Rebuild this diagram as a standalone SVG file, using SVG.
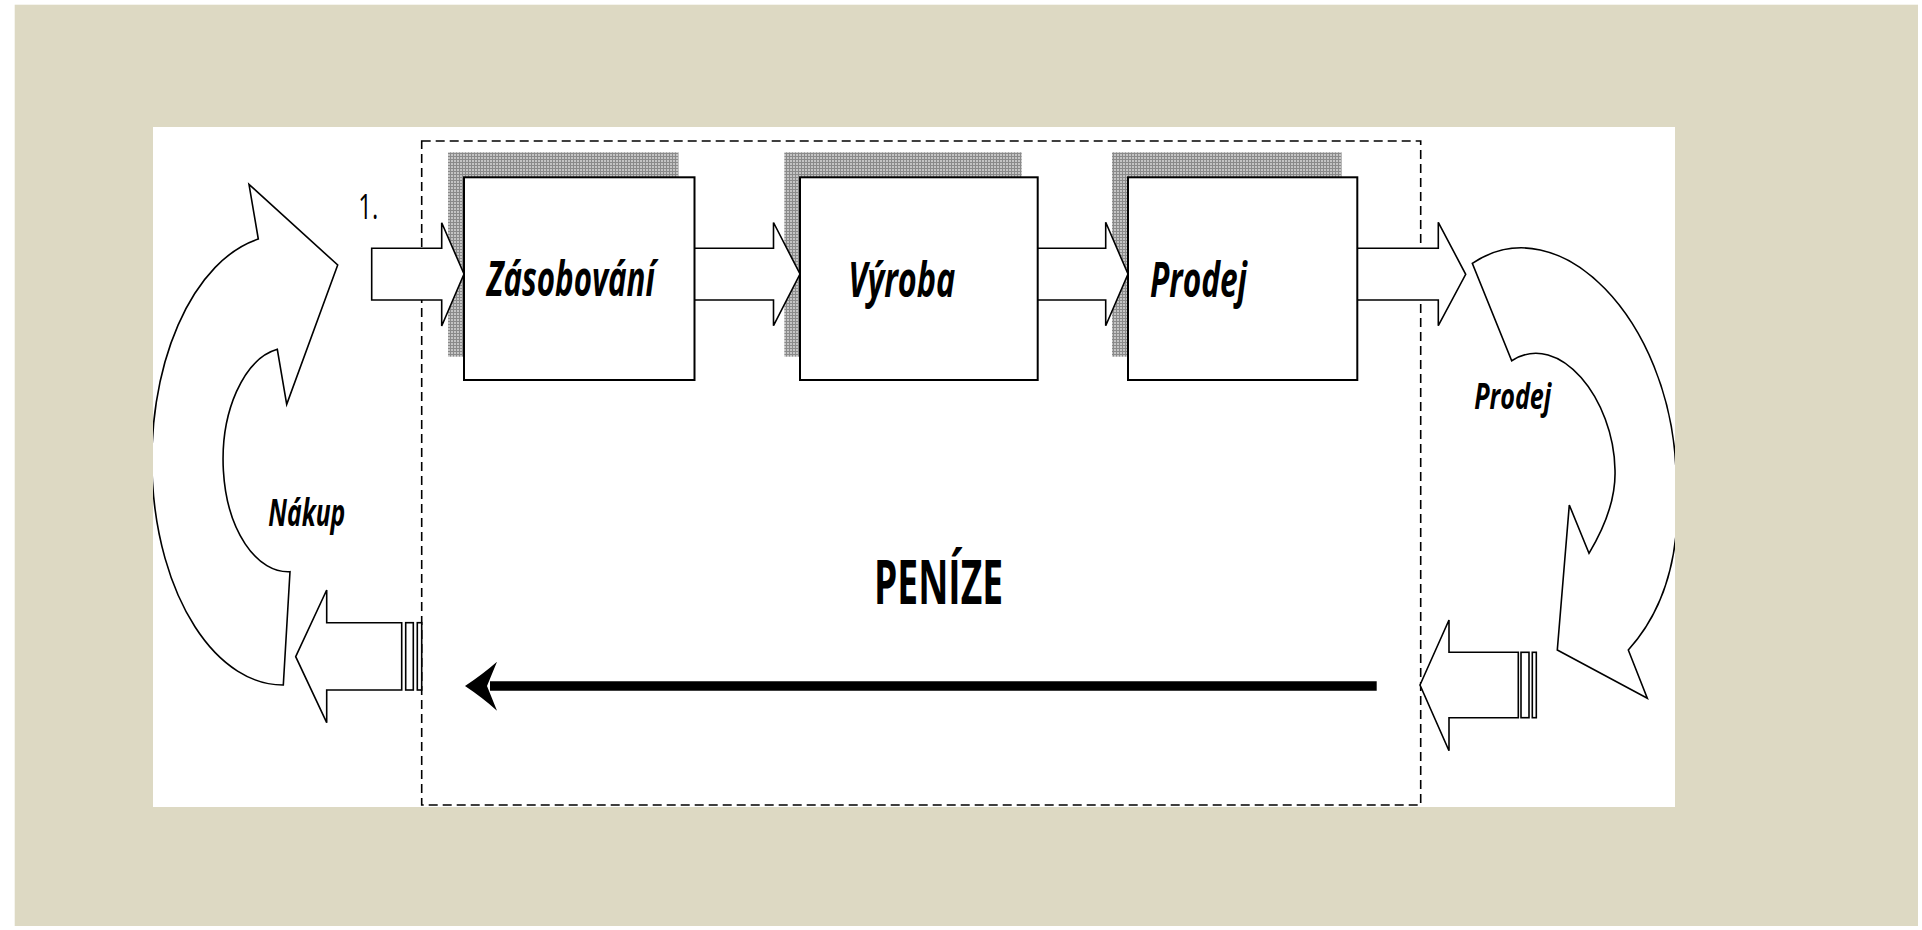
<svg xmlns="http://www.w3.org/2000/svg" width="1922" height="930" viewBox="0 0 1922 930">
<style>
.box{fill:#fff;stroke:#000;stroke-width:2}
.shadow{fill:url(#grid)}
.blk{fill:#fff;stroke:#000;stroke-width:1.6;stroke-linejoin:miter}
.lbl{font-family:"Open Sans","Liberation Sans",sans-serif;font-weight:bold;font-style:italic;fill:#000}
.dash{fill:none;stroke:#000;stroke-width:1.6;stroke-dasharray:9 5}
</style>
<defs>
<pattern id="grid" width="3" height="3" patternUnits="userSpaceOnUse">
<rect width="3" height="3" fill="#c4c4c4"/>
<rect width="3" height="1" fill="#8a8a8a"/>
<rect width="1" height="3" fill="#8a8a8a"/>
</pattern>
<clipPath id="clipWhite"><rect x="153" y="127" width="1522" height="680"/></clipPath>
</defs>
<rect x="0" y="0" width="1922" height="930" fill="#fff"/>
<rect x="14.7" y="4.7" width="1903.3" height="921.3" fill="#DDD9C3"/>
<rect x="153" y="127" width="1522" height="680" fill="#fff"/>
<g clip-path="url(#clipWhite)">
<rect id="frame" class="dash" x="421.7" y="141" width="999" height="664"/>

<g id="shadows">
<rect class="shadow" x="448" y="152.3" width="230.5" height="204.4"/>
<rect class="shadow" x="784.3" y="152.3" width="237.4" height="204.4"/>
<rect class="shadow" x="1112" y="152.3" width="229.6" height="204.4"/>
</g>

<g id="connectors">
<path id="arrow1" class="blk" d="M371.7 248.3 H441.7 V222.7 L464 274 L441.7 326 V300 H371.7 Z"/>
<path id="arrow2" class="blk" d="M694.5 248.3 H773.5 V222.5 L800 274 L773.5 325.7 V300 H694.5"/>
<path id="arrow3" class="blk" d="M1037.7 248.3 H1105.7 V222.3 L1128 274 L1105.7 325.7 V300 H1037.7"/>
<path id="arrow4" class="blk" d="M1357.3 248.3 H1438.3 V222.3 L1465.7 274.3 L1438.3 325.7 V300 H1357.3"/>
<path id="money-line" d="M1376.7 686 H490" stroke="#000" stroke-width="9.5" fill="none"/>
<path id="money-head" d="M465 686 Q483 674 497 661.7 L487 686 L497 710.7 Q483 698 465 686 Z" fill="#000"/>
</g>

<g id="box-zasobovani">
<rect class="box" x="464" y="177.3" width="230.5" height="202.7"/>
<text class="lbl" x="486.7" y="295.5" font-size="48" textLength="168" lengthAdjust="spacingAndGlyphs">Zásobování</text>
</g>
<g id="box-vyroba">
<rect class="box" x="800" y="177.3" width="237.7" height="202.7"/>
<text class="lbl" x="848.3" y="296.5" font-size="48" textLength="107" lengthAdjust="spacingAndGlyphs">Výroba</text>
</g>
<g id="box-prodej">
<rect class="box" x="1128" y="177.3" width="229.3" height="202.7"/>
<text class="lbl" x="1150" y="296.5" font-size="48" textLength="97" lengthAdjust="spacingAndGlyphs">Prodej</text>
</g>

<g id="nakup">
<path class="blk" d="M258.3 239 L249 184.3 L337.7 265 L286.7 404.3 L277.3 349.3 A65 112 0 0 0 290 571.7 L283.3 685 A131 225 0 0 1 258.3 239 Z"/>
<text class="lbl" x="268.3" y="525.7" font-size="38" textLength="77" lengthAdjust="spacingAndGlyphs">Nákup</text>
</g>

<g id="prodej-cycle">
<path class="blk" d="M1472.3 263.3 C1560 205 1670 320 1676 470 C1684 560 1660 615 1628.3 650 L1647.3 698.3 L1557.3 650 L1569.3 505 L1589 553.3 C1603 530 1616 500 1615 470 C1614 400 1560 330 1511.7 360.7 Z"/>
<text class="lbl" x="1474.3" y="409" font-size="36" textLength="77" lengthAdjust="spacingAndGlyphs">Prodej</text>
</g>

<g id="money-out-left">
<path class="blk" d="M295.7 656.7 L326.7 590 V622.7 H401.7 V690 H326.7 V722.7 Z"/>
<rect class="blk" x="405.7" y="622.7" width="7.6" height="67.3"/>
<rect class="blk" x="417.3" y="622.7" width="4.4" height="67.3"/>
</g>
<g id="money-in-right">
<path class="blk" d="M1420 685 L1449 620 V652.3 H1518.3 V717.7 H1449 V750.7 Z"/>
<rect class="blk" x="1521" y="652.3" width="8" height="65.4"/>
<rect class="blk" x="1532.3" y="652.3" width="4" height="65.4"/>
</g>

<text id="step1" x="358.3" y="219" font-family="Open Sans, Liberation Sans, sans-serif" font-size="35" textLength="20" lengthAdjust="spacingAndGlyphs" fill="#000">1.</text>
<text id="penize" x="874" y="604" font-family="Open Sans, Liberation Sans, sans-serif" font-weight="bold" font-size="60" textLength="129" lengthAdjust="spacingAndGlyphs" fill="#000">PENÍZE</text>
</g>
</svg>
